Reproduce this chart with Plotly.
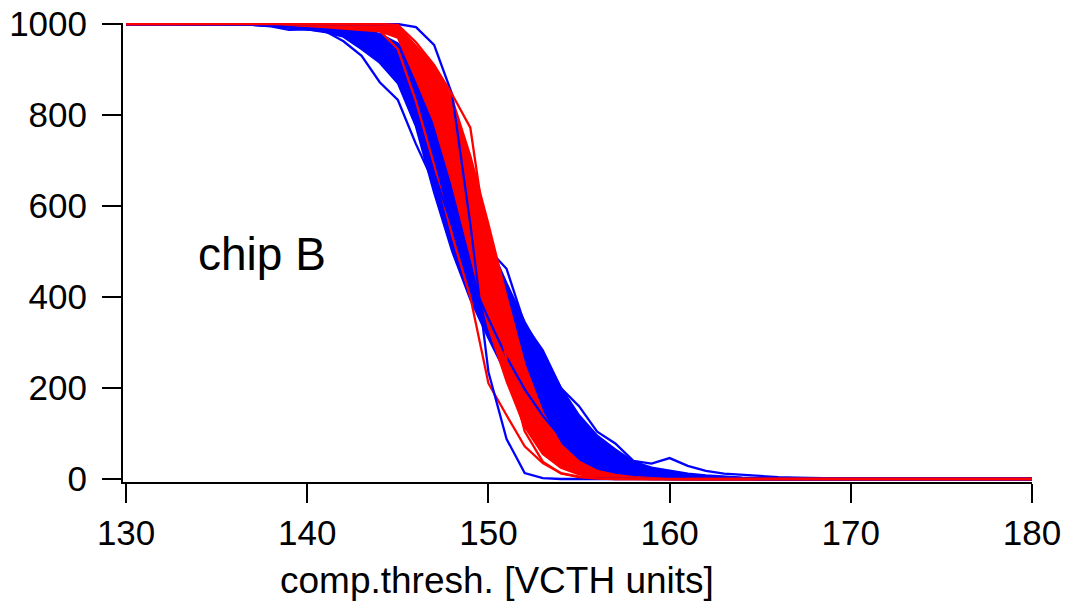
import plotly.graph_objects as go

# threshold grid (VCTH units)
X = [130, 136, 137, 138, 139, 140, 141, 142, 143, 144, 145, 146, 147, 148, 149, 150,
     151, 152, 153, 154, 155, 156, 157, 158, 159, 160, 161, 162, 163, 164, 165, 166,
     167, 168, 170, 180]

# ---- blue channels (occupancy counts) ----
blue_left = [1000, 999, 998, 996, 992, 988, 982, 972, 945, 915, 870, 775, 630, 500, 395, 310,
             230, 160, 105, 65, 38, 20, 10, 4, 2, 1, 0, 0, 0, 0, 0, 0, 0, 0, 0, 0]
blue_20 = [1000, 999, 998, 997, 993, 990, 985, 976, 953, 927, 887, 806, 672, 556, 442, 352,
           268, 197, 139, 92, 58, 35, 21, 11, 7, 4, 2, 2, 1, 1, 0, 0, 0, 0, 0, 0]
blue_40 = [1000, 999, 999, 998, 995, 992, 988, 980, 962, 940, 904, 833, 722, 608, 493, 400,
           306, 234, 173, 119, 79, 50, 32, 18, 11, 8, 5, 3, 2, 1, 1, 0, 0, 0, 0, 0]
blue_60 = [1000, 1000, 999, 998, 996, 994, 990, 985, 970, 952, 921, 862, 768, 662, 542, 436,
           350, 271, 207, 146, 99, 65, 43, 24, 16, 11, 7, 5, 3, 2, 1, 1, 0, 0, 0, 0]
blue_80 = [1000, 1000, 1000, 999, 998, 996, 993, 989, 979, 965, 938, 891, 814, 716, 591, 478,
           390, 308, 241, 173, 120, 80, 54, 31, 20, 15, 10, 6, 4, 2, 2, 1, 0, 0, 0, 0]
blue_right = [1000, 1000, 1000, 1000, 999, 998, 996, 993, 987, 977, 955, 920, 860, 770, 640, 520,
              430, 345, 275, 200, 140, 95, 65, 38, 25, 18, 12, 8, 5, 3, 2, 1, 0, 0, 0, 0]
blue_tail = [1000, 1000, 1000, 1000, 1000, 999, 997, 994, 988, 978, 957, 922, 865, 775, 650, 505,
             462, 340, 283, 200, 160, 104, 78, 40, 34, 46, 29, 18, 12, 9, 6, 4, 3, 2, 1, 0]
blue_steep = [1000, 1000, 1000, 1000, 1000, 1000, 1000, 1000, 1000, 1000, 1000, 993, 954, 845, 560, 235,
              88, 13, 2, 0, 0, 0, 0, 0, 0, 0, 0, 0, 0, 0, 0, 0, 0, 0, 0, 0]
blue_early = [1000, 999, 998, 995, 987, 988, 984, 962, 930, 872, 833, 736, 650, 555, 450, 350,
              262, 185, 125, 78, 44, 22, 10, 4, 1, 0, 0, 0, 0, 0, 0, 0, 0, 0, 0, 0]

# ---- red channels (occupancy counts) ----
red_left = [1000, 1000, 1000, 999, 998, 996, 993, 990, 987, 984, 970, 880, 785, 650, 495, 335,
            215, 115, 55, 25, 10, 4, 1, 0, 0, 0, 0, 0, 0, 0, 0, 0, 0, 0, 0, 0]
red_25 = [1000, 1000, 1000, 999, 998, 997, 995, 992, 990, 988, 976, 898, 816, 696, 549, 391,
          261, 149, 78, 38, 17, 7, 3, 1, 0, 0, 0, 0, 0, 0, 0, 0, 0, 0, 0, 0]
red_50 = [1000, 1000, 1000, 1000, 999, 998, 996, 995, 993, 992, 982, 916, 846, 742, 602, 447,
          307, 182, 100, 50, 24, 11, 5, 2, 1, 0, 0, 0, 0, 0, 0, 0, 0, 0, 0, 0]
red_75 = [1000, 1000, 1000, 1000, 999, 999, 998, 998, 997, 996, 989, 934, 877, 789, 656, 503,
          354, 216, 122, 62, 31, 14, 7, 3, 1, 0, 0, 0, 0, 0, 0, 0, 0, 0, 0, 0]
red_right = [1000, 1000, 1000, 1000, 1000, 1000, 1000, 1000, 1000, 1000, 995, 952, 908, 835, 710, 560,
             400, 250, 145, 75, 38, 18, 9, 4, 2, 1, 0, 0, 0, 0, 0, 0, 0, 0, 0, 0]
red_late = [1000, 1000, 1000, 1000, 1000, 1000, 1000, 1000, 1000, 1000, 998, 960, 910, 845, 772, 500,
            260, 105, 38, 12, 4, 1, 0, 0, 0, 0, 0, 0, 0, 0, 0, 0, 0, 0, 0, 0]
red_early = [1000, 1000, 1000, 1000, 1000, 1000, 1000, 1000, 997, 985, 945, 830, 690, 535, 400, 210,
             140, 72, 35, 13, 5, 2, 0, 0, 0, 0, 0, 0, 0, 0, 0, 0, 0, 0, 0, 0]

X_TICKS = [130, 140, 150, 160, 170, 180]
Y_TICKS = [0, 200, 400, 600, 800, 1000]
LABEL = "chip B"
X_TITLE = "comp.thresh. [VCTH units]"

BLUE = "#0000FF"
RED = "#FF0000"
LW = 2.3
FONT = "Liberation Sans, Arial, Helvetica, sans-serif"

fig = go.Figure()


def line(y, color, fill=None):
    kw = dict(x=X, y=y, mode="lines", line=dict(color=color, width=LW),
              hoverinfo="skip", showlegend=False)
    if fill:
        kw["fill"] = "tonexty"
        kw["fillcolor"] = color
    fig.add_trace(go.Scatter(**kw))


# blue band
line(blue_left, BLUE)
line(blue_right, BLUE, fill=True)
for s in (blue_20, blue_40, blue_60, blue_80, blue_tail, blue_early):
    line(s, BLUE)

# red band
line(red_left, RED)
line(red_right, RED, fill=True)
for s in (red_25, red_50, red_75, red_early):
    line(s, RED)

# a few blue channels drawn over the red band
line(blue_steep, BLUE)
line(blue_20, BLUE)
line(red_late, RED)

axis_common = dict(
    showline=True, linecolor="black", linewidth=2,
    ticks="outside", ticklen=19, tickwidth=2, tickcolor="black",
    showgrid=False, zeroline=False, automargin=False,
    tickfont=dict(family=FONT, size=35, color="black"),
)

fig.update_layout(
    template="none",
    width=1068, height=601,
    margin=dict(l=123, r=36, t=23, b=119, autoexpand=False),
    paper_bgcolor="white", plot_bgcolor="white",
    font=dict(family=FONT, color="black"),
    showlegend=False,
    xaxis=dict(range=[129.83, 180], tickvals=X_TICKS, ticklabelstandoff=0, **axis_common),
    yaxis=dict(range=[-6.6, 1002.2], tickvals=Y_TICKS, ticklabelstandoff=8, **axis_common),
    annotations=[
        dict(text=LABEL, x=133.88, y=494, xref="x", yref="y", xanchor="left", yanchor="middle",
             showarrow=False, font=dict(family=FONT, size=46, color="black")),
        dict(text=X_TITLE, x=0.411, y=-0.2150, xref="paper", yref="paper",
             xanchor="center", yanchor="middle", showarrow=False,
             font=dict(family=FONT, size=37, color="black")),
    ],
)

fig.write_html("out.html")
